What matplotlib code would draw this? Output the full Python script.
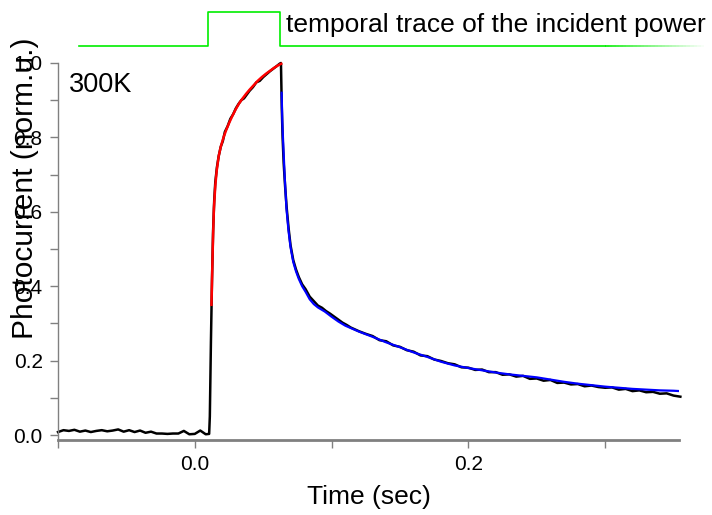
import matplotlib
matplotlib.use("Agg")
import matplotlib.pyplot as plt
import numpy as np
from matplotlib.collections import LineCollection
from matplotlib.ticker import MultipleLocator, NullFormatter

plt.rcParams["font.family"] = ["Liberation Sans", "DejaVu Sans"]

# measured photocurrent: dark baseline, rise while illuminated, decay after
base_t = [-0.100, -0.096, -0.092, -0.088, -0.084, -0.080, -0.076, -0.072, -0.068, -0.064,
          -0.060, -0.056, -0.052, -0.048, -0.044, -0.040, -0.036, -0.032, -0.028, -0.024,
          -0.020, -0.016, -0.012, -0.008, -0.004, 0.000, 0.004, 0.008, 0.0105]
base_v = [0.008, 0.013, 0.011, 0.014, 0.009, 0.012, 0.008, 0.011, 0.013, 0.010,
          0.012, 0.015, 0.009, 0.013, 0.008, 0.012, 0.006, 0.009, 0.004, 0.004,
          0.003, 0.004, 0.004, 0.011, 0.002, 0.003, 0.012, 0.002, 0.003]

rise_t = [0.0110, 0.0118, 0.0126, 0.0134, 0.0142, 0.0150, 0.0162, 0.0175, 0.0190, 0.0205,
          0.0220, 0.0240, 0.0260, 0.0280, 0.0300, 0.0320, 0.0340, 0.0360, 0.0380, 0.0400,
          0.0425, 0.0450, 0.0475, 0.0500, 0.0525, 0.0550, 0.0575, 0.0600, 0.0620]
rise_v = [0.05, 0.25, 0.42, 0.55, 0.63, 0.68, 0.72, 0.75, 0.775, 0.79,
          0.815, 0.83, 0.85, 0.862, 0.878, 0.89, 0.90, 0.905, 0.915, 0.925,
          0.935, 0.948, 0.952, 0.962, 0.970, 0.978, 0.985, 0.992, 0.998]

decay_t = [0.0630, 0.0632, 0.0636, 0.0642, 0.0650, 0.0660, 0.0672, 0.0686, 0.0700, 0.0720,
           0.0740, 0.0760, 0.0785, 0.0810, 0.0840, 0.0870, 0.0900, 0.0930, 0.0960, 0.0990,
           0.1020, 0.1050, 0.1080, 0.1110, 0.1140, 0.1170,
           0.120, 0.125, 0.130, 0.135, 0.140, 0.145, 0.150, 0.155, 0.160, 0.165,
           0.170, 0.175, 0.180, 0.185, 0.190, 0.195, 0.200, 0.205, 0.210, 0.215,
           0.220, 0.225, 0.230, 0.235, 0.240, 0.245, 0.250, 0.255, 0.260, 0.265,
           0.270, 0.275, 0.280, 0.285, 0.290, 0.295, 0.300, 0.305, 0.310, 0.315,
           0.320, 0.325, 0.330, 0.335, 0.340, 0.345, 0.350, 0.355]
decay_v = [1.000, 0.960, 0.880, 0.800, 0.730, 0.670, 0.610, 0.555, 0.510, 0.470,
           0.445, 0.425, 0.405, 0.392, 0.372, 0.360, 0.348, 0.342, 0.333, 0.326,
           0.318, 0.310, 0.302, 0.296, 0.289, 0.284,
           0.279, 0.272, 0.266, 0.255, 0.252, 0.241, 0.237, 0.228, 0.224, 0.214,
           0.212, 0.203, 0.199, 0.193, 0.190, 0.182, 0.181, 0.175, 0.176, 0.169,
           0.169, 0.162, 0.163, 0.157, 0.159, 0.151, 0.152, 0.146, 0.148, 0.140,
           0.141, 0.136, 0.137, 0.131, 0.133, 0.129, 0.127, 0.128, 0.122, 0.124,
           0.118, 0.120, 0.115, 0.116, 0.111, 0.112, 0.106, 0.103]

# fitted curves
rise_fit_t = [0.0122, 0.0128, 0.0134, 0.0140, 0.0150, 0.0160, 0.0175, 0.0190, 0.0210, 0.0230,
              0.0250, 0.0275, 0.0300, 0.0325, 0.0350, 0.0375, 0.0400, 0.0430, 0.0460, 0.0490,
              0.0520, 0.0550, 0.0580, 0.0610, 0.0632]
rise_fit_v = [0.35, 0.45, 0.54, 0.61, 0.67, 0.71, 0.75, 0.775, 0.80, 0.82,
              0.838, 0.858, 0.876, 0.892, 0.905, 0.917, 0.928, 0.940, 0.952, 0.962,
              0.971, 0.979, 0.987, 0.994, 0.998]

decay_fit_t = [0.0635, 0.0640, 0.0648, 0.0658, 0.0670, 0.0685, 0.0700, 0.0720, 0.0740, 0.0760,
               0.0785, 0.0810, 0.0840, 0.0870, 0.0900, 0.0950, 0.1000, 0.1050, 0.1100, 0.1200,
               0.1300, 0.1400, 0.1500, 0.1600, 0.1700, 0.1800, 0.1900, 0.2000, 0.2100, 0.2200,
               0.2300, 0.2400, 0.2500, 0.2600, 0.2700, 0.2800, 0.2900, 0.3000, 0.3100, 0.3200,
               0.3300, 0.3400, 0.3500, 0.3550]
decay_fit_v = [0.92, 0.84, 0.77, 0.69, 0.61, 0.55, 0.505, 0.465, 0.440, 0.420,
               0.400, 0.385, 0.365, 0.352, 0.343, 0.332, 0.318, 0.305, 0.294, 0.278,
               0.264, 0.249, 0.236, 0.222, 0.210, 0.197, 0.187, 0.180, 0.174, 0.168,
               0.163, 0.159, 0.155, 0.149, 0.143, 0.138, 0.134, 0.130, 0.127, 0.124,
               0.122, 0.120, 0.119, 0.118]

# incident power (on/off) drawn above the plot
power_t = [-0.085, 0.0095, 0.0095, 0.062, 0.062, 0.30]
power_v = [1.046, 1.046, 1.137, 1.137, 1.046, 1.046]
power_tail_t = [0.30, 0.375]

trace_t = base_t + rise_t + decay_t
trace_v = base_v + rise_v + decay_v

fig = plt.figure(figsize=(7.12, 5.15), dpi=100)
ax = fig.add_axes([58 / 712, 1 - 440 / 515, (679 - 58) / 712, (440 - 63) / 515])

ax.plot(trace_t, trace_v, color="black", lw=1.8, clip_on=False, zorder=2)
ax.plot(rise_fit_t, rise_fit_v, color="#ff0000", lw=1.8, clip_on=False, zorder=3)
ax.plot(decay_fit_t, decay_fit_v, color="#0000ff", lw=1.6, zorder=3)

green = "#00ee00"
ax.plot(power_t, power_v, color=green, lw=1.2, clip_on=False)
tail = np.linspace(power_tail_t[0], power_tail_t[1], 30)
segs = [[(tail[i], 1.046), (tail[i + 1], 1.046)] for i in range(len(tail) - 1)]
alphas = np.linspace(1.0, 0.0, len(segs))
lc = LineCollection(segs, colors=[(0.0, 0.93, 0.0, a) for a in alphas], lw=1.2)
lc.set_clip_on(False)
ax.add_collection(lc)

ax.text(0.0664, 1.102, "temporal trace of the incident power", fontsize=19,
        va="center", ha="left", clip_on=False)
ax.text(-0.092, 0.941, "300K", fontsize=19.5, va="center", ha="left")

ax.set_xlim(-0.1, 0.354)
ax.set_ylim(-0.0134, 1.0)

ax.xaxis.set_major_locator(MultipleLocator(0.2))
ax.xaxis.set_minor_locator(MultipleLocator(0.1))
ax.xaxis.set_minor_formatter(NullFormatter())
ax.yaxis.set_major_locator(MultipleLocator(0.2))
ax.yaxis.set_minor_locator(MultipleLocator(0.1))
ax.yaxis.set_minor_formatter(NullFormatter())
ax.xaxis.set_major_formatter(plt.FuncFormatter(lambda v, p: f"{v:.1f}"))
ax.yaxis.set_major_formatter(plt.FuncFormatter(lambda v, p: f"{v:.1f}"))

gray = "#808080"
for side in ("top", "right"):
    ax.spines[side].set_visible(False)
ax.spines["left"].set_color(gray)
ax.spines["left"].set_linewidth(1.0)
ax.spines["bottom"].set_color(gray)
ax.spines["bottom"].set_linewidth(2.0)
ax.tick_params(which="both", direction="out", length=6, width=1.0, color=gray,
               labelsize=15, pad=5)

ax.set_xlabel("Time (sec)", fontsize=19, labelpad=8)
ax.set_ylabel("Photocurrent (norm.u.)", fontsize=21.5)
ax.yaxis.set_label_coords(-19 / 621, (440 - 188) / 377)

fig.savefig("out.png", dpi=100)
